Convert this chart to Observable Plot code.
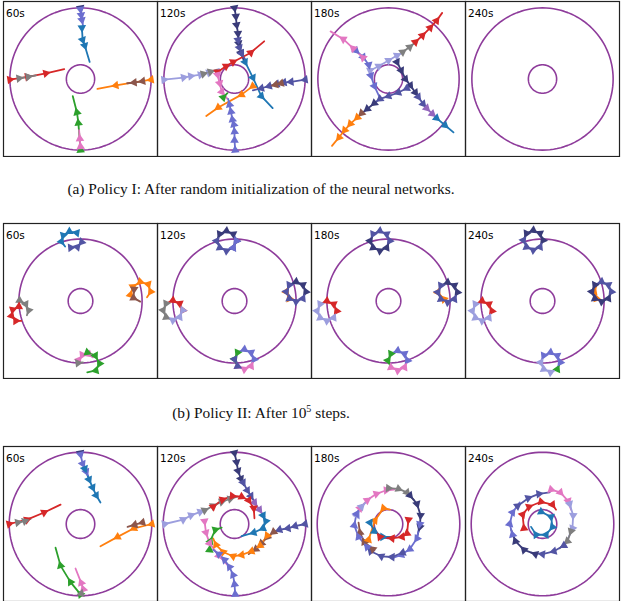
<!DOCTYPE html>
<html><head><meta charset="utf-8">
<script src="https://cdn.jsdelivr.net/npm/d3@7"></script>
<script src="https://cdn.jsdelivr.net/npm/@observablehq/plot@0.6"></script>
<style>
body{margin:0;background:#fff;width:621px;height:601px;overflow:hidden;position:relative;}
.row{position:absolute;left:0;}
.cap{position:absolute;left:0;width:522px;text-align:center;font-family:"Liberation Serif",serif;font-size:15.4px;line-height:18px;color:#111;}
.cap sup{font-size:10px;line-height:0;}
</style></head><body>
<div id="r0" class="row" style="top:0px"></div>
<div class="cap" style="top:180px">(a) Policy I: After random initialization of the neural networks.</div>
<div id="r1" class="row" style="top:222px"></div>
<div class="cap" style="top:404px">(b) Policy II: After 10<sup>5</sup> steps.</div>
<div id="r2" class="row" style="top:445px"></div>
<script>
const times = ["60s", "120s", "180s", "240s"];
const palette = {navy:"#393b79", slate:"#5254a3", mpurp:"#6b6ecf", lav:"#9c9ede", blue:"#1f77b4", orange:"#ff7f0e", green:"#2ca02c", red:"#d62728", purple:"#9467bd", brown:"#8c564b", pink:"#e377c2", gray:"#7f7f7f"};
const outerR = 100, innerR = 20;

// Row (a): Policy I
const a60 = [
  ["navy", 0,100, 1,94],
  ["mpurp", 0,98, 1,90, 2,83, 4,73],
  ["blue", 2,72, 3,55, 6,47, 13,24],
  ["red", -100,-1, -75,3, -49,8, -23,14],
  ["gray", -87,1, -74,3, -63,5],
  ["orange", 100,-1, 50,-9, 24,-14],
  ["brown", 88,-3, 76,-5, 66,-6],
  ["green", 0,-100, -3,-62, -5,-47, -11,-24],
  ["pink", 0,-95, -1,-84, -2,-72]
];
const a120 = [
  ["navy", 0,100, 2,88, 3,76, 5,64, 6,50, 9,37, 14,24],
  ["slate", 5,55, 7,44, 10,36, 16,26],
  ["blue", 15,24, 26,2, 38,-24, 54,-41],
  ["lav", -100,-1, -72,2, -62,4, -48,6, -36,9, -22,14],
  ["gray", -44,7, -34,10, -25,13],
  ["red", -24,10, -12,18, -2,24, 23,37, 42,53],
  ["pink", -24,6, -21,-6, -18,-18, -10,-28],
  ["slate", 100,-1, 80,-4, 70,-5, 60,-7, 49,-10, 38,-13, 26,-16],
  ["brown", 66,-6, 58,-8, 50,-10],
  ["orange", 26,-10, 10,-22, -23,-40, -40,-52],
  ["mpurp", 1,-100, 0,-86, 0,-74, -1,-64, -3,-57, -5,-46, -7,-36, -9,-28],
  ["green", -16,-26, -10,-20]
];
const a180 = [
  ["lav", -26,12, -14,18, 0,26, 12,33, 22,38],
  ["gray", 20,38, 30,45, 40,53],
  ["red", 38,52, 48,61, 59,72, 68,82, 76,93],
  ["navy", 12,24, 18,12, 24,0, 31,-9, 38,-19, 44,-27],
  ["slate", 42,-25, 49,-35, 56,-43],
  ["purple", 54,-41, 62,-49, 70,-56],
  ["blue", 68,-55, 80,-65, 92,-75],
  ["slate", 26,-13, 14,-19, 0,-24, -12,-28, -22,-35],
  ["navy", -20,-34, -30,-42, -40,-50],
  ["brown", -38,-48, -46,-56],
  ["orange", -44,-54, -54,-63, -62,-72, -70,-82, -80,-94],
  ["mpurp", -46,40, -36,31, -28,20, -25,5, -20,-10, -12,-27],
  ["pink", -36,30, -50,43, -64,56, -82,67]
];
const a240 = [];

// Row (b): Policy II
const b60 = [
  ["blue", -6,110, -18,112, -28,106, -31,96, -25,88],
  ["slate", -16,86, -5,87, 2,95, 0,101],
  ["gray", -99,1, -89,-5, -84,-15, -87,-23],
  ["red", -100,-9, -110,-14, -112,-24, -105,-32, -96,-32],
  ["orange", 81,10, 85,23, 97,31, 110,27, 114,15, 108,6],
  ["brown", 87,19, 86,5, 97,-1],
  ["pink", -3,-95, 3,-87, 14,-86, 20,-91],
  ["green", 11,-83, 24,-88, 31,-101, 25,-112, 11,-115],
  ["gray", -4,-100, 4,-99]
];
const b120 = [
  ["navy", 3,97, -2,108, -13,113, -24,108, -29,97],
  ["slate", -29,97, -24,86, -13,81, -2,86, 3,97],
  ["mpurp", -2,86, 3,97, -2,108],
  ["red", -84,-15, -89,-4, -100,1, -111,-4],
  ["gray", -111,-4, -116,-15, -111,-26, -100,-31],
  ["lav", -100,-31, -89,-26, -84,-15, -89,-4],
  ["orange", 89,4, 84,15, 89,26],
  ["navy", 116,15, 111,26, 100,31, 89,26],
  ["slate", 89,26, 84,15, 89,4, 100,-1, 111,4, 116,15],
  ["green", 5,-83, 0,-94, 5,-105],
  ["mpurp", 32,-94, 27,-83, 16,-78, 5,-83],
  ["pink", 5,-105, 16,-110, 27,-105, 32,-94],
  ["slate", 0,-94, 5,-105, 16,-110]
];
const b180 = [
  ["slate", 2,97, -3,108, -14,113, -25,108, -30,97],
  ["navy", -30,97, -25,86, -14,81, -3,86, 2,97],
  ["red", -84,-16, -89,-5, -100,0, -111,-5],
  ["lav", -111,-5, -116,-16, -111,-27, -100,-32, -89,-27, -84,-16],
  ["orange", 90,3, 80,14, 85,25],
  ["navy", 112,14, 107,25, 96,30, 85,25],
  ["slate", 85,25, 80,14, 85,3, 96,-2, 107,3, 112,14],
  ["green", 4,-85, -1,-96, 4,-107],
  ["mpurp", 31,-96, 26,-85, 15,-80, 4,-85],
  ["pink", 4,-107, 15,-112, 26,-107, 31,-96]
];
const b240 = [
  ["navy", 1,98, -4,109, -15,114, -26,109, -31,98],
  ["slate", -31,98, -26,87, -15,82, -4,87, 1,98],
  ["red", -82,-16, -87,-5, -98,0, -109,-5],
  ["lav", -109,-5, -114,-16, -109,-27, -98,-32, -87,-27, -82,-16],
  ["orange", 88,4, 84,15, 88,26],
  ["slate", 112,15, 107,26, 96,31, 85,26],
  ["navy", 85,26, 80,15, 85,4, 96,-1, 107,4, 112,15],
  ["green", 24,-110, 29,-99],
  ["mpurp", 29,-99, 24,-88, 13,-83, 2,-88, -3,-99],
  ["lav", -3,-99, 2,-110, 13,-115, 24,-110]
];

// Row (c)
const c60 = [
  ["navy", 0,99, 1,94],
  ["mpurp", 0,97, 3,84, 8,73, 11,66],
  ["blue", 6,77, 12,62, 17,51, 22,40, 28,30],
  ["red", -100,0, -75,6, -51,16, -28,27],
  ["gray", -88,2, -78,4, -70,7],
  ["orange", 100,0, 75,-6, 52,-18, 28,-31],
  ["brown", 87,2, 76,-1, 66,-4],
  ["green", 0,-98, -14,-81, -28,-58, -35,-33],
  ["pink", 4,-91, 1,-82, -7,-62],
  ["gray", 1,-97, 2,-93]
];
const c120 = [
  ["navy", 0,99, 3,86, 5,74, 9,63, 13,54],
  ["slate", 12,58, 18,47, 23,39, 30,28],
  ["purple", 28,30, 35,20, 42,10],
  ["blue", 40,12, 44,4, 40,-6, 27,-12, 10,-17],
  ["lav", -98,0, -72,6, -61,12, -48,17, -40,20],
  ["gray", -42,19, -30,25, -18,31, -6,35, 4,38],
  ["red", -30,24, -17,34, -3,39, 10,38, 20,33, 27,22, 28,8],
  ["slate", 99,0, 85,-3, 75,-6, 63,-8, 52,-12],
  ["brown", 55,-11, 46,-18, 38,-27, 30,-35, 20,-42],
  ["orange", 46,-16, 36,-30, 24,-38, 10,-43, -2,-45, -16,-39, -26,-29, -30,-20],
  ["green", -35,-36, -34,-24, -27,-8, -18,-5],
  ["pink", -42,4, -40,-12, -35,-27, -22,-44, -7,-60],
  ["mpurp", 1,-98, 0,-84, -2,-71, -7,-60, -14,-50, -22,-42, -30,-36]
];
const c180 = [
  ["pink", -40,22, -30,33, -17,42, -3,47, 8,48],
  ["lav", -44,12, -38,24, -26,36],
  ["gray", 0,50, 14,49, 26,44, 36,33],
  ["navy", 30,40, 40,28, 45,12, 44,-4, 40,-18],
  ["mpurp", 44,0, 40,-20, 30,-35, 18,-43, 4,-48],
  ["slate", 20,-40, 5,-46, -10,-45, -25,-38, -36,-26],
  ["brown", -22,-35, -34,-25, -40,-12, -42,2],
  ["mpurp", -30,-32, -42,-18, -48,-2, -45,14, -38,26],
  ["orange", -28,-22, -19,5, -7,22, 2,20],
  ["blue", -26,2, -20,-10, -8,-18, 5,-18],
  ["red", 28,6, 26,-13, 19,-18, 5,-20, -12,-18, -21,-6]
];
const c240 = [
  ["slate", -35,25, -20,36, -5,42, 10,44],
  ["pink", 12,48, 25,44, 36,32, 40,20],
  ["lav", 38,28, 43,12, 42,-6, 36,-20],
  ["gray", 40,-10, 35,-24, 24,-34],
  ["slate", 30,-30, 16,-38, 0,-42, -16,-40],
  ["navy", -10,-42, -26,-36, -38,-24, -44,-8],
  ["mpurp", -42,-15, -46,0, -42,16, -32,30],
  ["red", -26,-6, -28,13, -19,24, -2,31, 14,27, 19,20],
  ["blue", -2,17, 12,10, 14,-4, 5,-15, -9,-15, -16,-4]
];

const rows = [
  {el: "r0", panels: [a60, a120, a180, a240], half: 109},
  {el: "r1", panels: [b60, b120, b180, b240], half: 125},
  {el: "r2", panels: [c60, c120, c180, c240], half: 108}
];

const ring = [];
times.forEach(p => [outerR, innerR].forEach(r => d3.range(0, 361, 3).forEach(deg => {
  const t = deg * Math.PI / 180;
  ring.push({p, r, x: r * Math.cos(t), y: r * Math.sin(t)});
})));

function build(panels) {
  const pts = [], arr = [];
  panels.forEach((tracks, pi) => {
    tracks.forEach((t, ti) => {
      const c = palette[t[0]], v = t.slice(1), id = pi + "-" + ti, n = v.length / 2;
      for (let i = 0; i < n; i++) {
        const x = v[2*i], y = v[2*i+1];
        pts.push({p: times[pi], id, c, x, y});
        if (i < n - 1) {
          const dx = v[2*i+2] - x, dy = v[2*i+3] - y;
          arr.push({p: times[pi], c, x, y, a: Math.atan2(dx, dy) * 180 / Math.PI});
        }
      }
    });
  });
  return {pts, arr};
}

rows.forEach(row => {
  const {pts, arr} = build(row.panels);
  const h = row.half;
  const chart = Plot.plot({
    width: 621, height: 157,
    marginTop: 1, marginBottom: 1, marginLeft: 1, marginRight: 1,
    x: {domain: [-h, h], axis: null},
    y: {domain: [-h, h], axis: null},
    fx: {domain: times, padding: 0, axis: null},
    color: {type: "identity"},
    style: {background: "white"},
    marks: [
      Plot.line(ring, {x: "x", y: "y", z: "r", fx: "p", stroke: "#8e3c9b", strokeWidth: 1.6}),
      Plot.line(pts, {x: "x", y: "y", z: "id", fx: "p", stroke: "c", strokeWidth: 1.8, clip: true}),
      Plot.dot(arr, {x: "x", y: "y", fx: "p", symbol: "triangle", fill: "c", stroke: null, r: 3.2, rotate: "a", clip: true}),
      Plot.text(times, {fx: d => d, text: d => d, frameAnchor: "top-left", dx: 2.5, dy: 8, fontSize: 10.5, fontFamily: "DejaVu Sans", fill: "#000"}),
      Plot.frame({stroke: "#222", strokeWidth: 1.2})
    ]
  });
  document.getElementById(row.el).appendChild(chart);
});
</script>
</body></html>
